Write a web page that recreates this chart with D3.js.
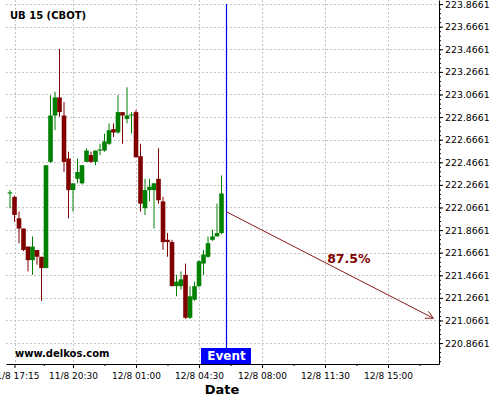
<!DOCTYPE html>
<html>
<head>
<meta charset="utf-8">
<script src="https://cdn.jsdelivr.net/npm/d3@7"></script>
<style>
  html, body { margin: 0; padding: 0; background: #fff; }
  svg { display: block; font-family: "DejaVu Sans", sans-serif; }
  .grid line { stroke: #c4c4c4; stroke-dasharray: 2,2; stroke-width: 1; }
  .axis path, .axis line { stroke: #000; }
  .axis text { fill: #000; }
</style>
</head>
<body>
<div id="chart"></div>
<script>
'use strict';

// ─── Дані (15-хв свічки, UB 15 CBOT) ────────────────────────────────────────
const opens  = [222.19, 222.16, 221.97, 221.88, 221.72, 221.60, 221.69, 221.63, 221.53, 222.47,
                222.88, 223.04, 222.88, 222.50, 222.22, 222.32, 222.28, 222.47, 222.53, 222.47,
                222.57, 222.57, 222.63, 222.76, 222.73, 222.91, 222.85, 222.88, 222.91, 222.52,
                222.06, 222.22, 222.22, 222.32, 222.12, 221.78, 221.76, 221.37, 221.37, 221.47,
                221.09, 221.25, 221.37, 221.57, 221.63, 221.78, 221.81, 221.84];
const highs  = [222.22, 222.17, 222.03, 221.88, 221.72, 221.81, 221.69, 221.63, 222.44, 223.06,
                223.09, 223.47, 223.00, 222.56, 222.28, 222.50, 222.44, 222.59, 222.56, 222.57,
                222.63, 222.72, 222.81, 222.81, 223.06, 222.91, 223.13, 222.91, 222.93, 222.63,
                222.32, 222.32, 222.28, 222.59, 222.16, 221.84, 221.78, 221.47, 221.50, 221.57,
                221.37, 221.41, 221.60, 221.69, 221.81, 221.87, 222.10, 222.35];
const lows   = [222.06, 221.94, 221.75, 221.68, 221.50, 221.47, 221.56, 221.24, 221.53, 222.46,
                222.75, 222.87, 222.38, 221.97, 222.03, 222.28, 222.27, 222.47, 222.46, 222.44,
                222.53, 222.56, 222.62, 222.69, 222.72, 222.63, 222.81, 222.72, 222.51, 222.03,
                222.00, 222.12, 221.88, 222.10, 221.69, 221.63, 221.37, 221.28, 221.34, 221.08,
                221.08, 221.24, 221.36, 221.47, 221.62, 221.77, 221.81, 221.83];
const closes = [222.20, 222.00, 221.88, 221.69, 221.60, 221.72, 221.63, 221.53, 222.44, 222.88,
                223.04, 222.91, 222.47, 222.22, 222.28, 222.38, 222.44, 222.57, 222.47, 222.57,
                222.58, 222.65, 222.75, 222.73, 222.91, 222.88, 222.88, 222.89, 222.51, 222.10,
                222.22, 222.25, 222.28, 222.13, 221.76, 221.76, 221.37, 221.41, 221.43, 221.09,
                221.28, 221.37, 221.59, 221.65, 221.75, 221.81, 221.84, 222.19];

// Вісь X — номер бару; підписи часу
const xTickIdx    = [1, 14, 28, 42, 56, 70, 84];
const xTickLabels = ['11/8 17:15', '11/8 20:30', '12/8 01:00', '12/8 04:30', '12/8 08:00', '12/8 11:30', '12/8 15:00'];
const xMinorIdx   = [7.5, 21, 35, 49, 63, 77, 91];

// Вісь Y — ціна
const yTicks = d3.range(16).map(k => +(220.8661 + 0.2 * k).toFixed(4));
const yMinor = d3.range(80).map(k => +(220.7061 + 0.04 * k).toFixed(4)).filter(v => v < 223.9);

// Подія та прогноз
const eventIdx    = 48;
const forecastIdx = [48, 94.07];
const forecastVal = [222.03, 221.086];
const forecastPct = '87.5%';
const labelIdx    = 75.3;
const labelVal    = 221.575;

// ─── Побудова ───────────────────────────────────────────────────────────────
const W = 500, H = 400;
const margin = { top: 0, right: 61, bottom: 36, left: 6 };
const width  = W - margin.left - margin.right;
const height = H - margin.top - margin.bottom;

const svg = d3.select('#chart').append('svg').attr('width', W).attr('height', H);
const g = svg.append('g').attr('transform', `translate(${margin.left},${margin.top})`);

const x = d3.scaleLinear().domain([-0.89, 95.33]).range([0, width]);
const y = d3.scaleLinear().domain([220.681, 223.9024]).range([height, 0]);

// Сітка
const grid = g.append('g').attr('class', 'grid');
grid.selectAll('.gy').data(yTicks).join('line')
  .attr('x1', 0).attr('x2', width)
  .attr('y1', d => Math.round(y(d)) + 0.5).attr('y2', d => Math.round(y(d)) + 0.5);
grid.selectAll('.gx').data(xTickIdx).join('line')
  .attr('x1', d => Math.round(x(d)) + 0.5).attr('x2', d => Math.round(x(d)) + 0.5)
  .attr('y1', 0).attr('y2', height);

// Свічки
const candles = opens.map((o, i) => ({ i, o, h: highs[i], l: lows[i], c: closes[i] }));
const colorOf = d => d.c >= d.o ? '#008000' : '#800000';
const bodyW = 4.6;

const cg = g.append('g');
cg.selectAll('.wick').data(candles).join('line')
  .attr('x1', d => x(d.i)).attr('x2', d => x(d.i))
  .attr('y1', d => y(d.h)).attr('y2', d => y(d.l))
  .attr('stroke', colorOf).attr('stroke-width', 1);
cg.selectAll('.body').data(candles).join('rect')
  .attr('x', d => x(d.i) - bodyW / 2)
  .attr('width', bodyW)
  .attr('y', d => y(Math.max(d.o, d.c)))
  .attr('height', d => Math.max(1, Math.abs(y(d.o) - y(d.c))))
  .attr('fill', colorOf);

// Лінія події
const ex = Math.round(x(eventIdx)) + 0.5;
g.append('line')
  .attr('x1', ex).attr('x2', ex)
  .attr('y1', y(yTicks[yTicks.length - 1])).attr('y2', height - 16)
  .attr('stroke', '#0000ff').attr('stroke-width', 1.2);

// Стрілка прогнозу
const ax1 = x(forecastIdx[0]), ay1 = y(forecastVal[0]);
const ax2 = x(forecastIdx[1]), ay2 = y(forecastVal[1]);
const ang = Math.atan2(ay2 - ay1, ax2 - ax1);
const arrowCol = '#8b1a1a';
g.append('line').attr('x1', ax1).attr('y1', ay1).attr('x2', ax2).attr('y2', ay2)
  .attr('stroke', arrowCol).attr('stroke-width', 1);
[-0.47, 0.47].forEach(da => {
  g.append('line')
    .attr('x1', ax2).attr('y1', ay2)
    .attr('x2', ax2 - 8.5 * Math.cos(ang + da)).attr('y2', ay2 - 8.5 * Math.sin(ang + da))
    .attr('stroke', arrowCol).attr('stroke-width', 1);
});
g.append('text')
  .attr('x', x(labelIdx)).attr('y', y(labelVal))
  .attr('text-anchor', 'middle')
  .attr('font-size', '12.5px').attr('font-weight', 'bold').attr('fill', '#800000')
  .text(forecastPct);

// Мітка Event
g.append('rect')
  .attr('x', ex - 25.5).attr('y', height - 16).attr('width', 50).attr('height', 16)
  .attr('fill', '#0000ff');
g.append('text')
  .attr('x', ex).attr('y', height - 8).attr('dy', '0.36em')
  .attr('text-anchor', 'middle')
  .attr('font-size', '12px').attr('font-weight', 'bold').attr('fill', '#fff')
  .text('Event');

// Осі
g.append('g').attr('class', 'axis')
  .attr('transform', `translate(${width},0)`)
  .call(d3.axisRight(y).tickValues(yMinor).tickSize(2).tickFormat(''))
  .call(a => a.select('.domain').remove());
g.append('g').attr('class', 'axis')
  .attr('transform', `translate(${width},0)`)
  .call(d3.axisRight(y).tickValues(yTicks).tickSize(4).tickSizeOuter(0).tickPadding(2)
    .tickFormat(d => d.toFixed(4)))
  .call(a => a.selectAll('text').attr('font-size', '9.4px').attr('font-family', 'DejaVu Sans'));

g.append('g').attr('class', 'axis')
  .attr('transform', `translate(0,${height})`)
  .call(d3.axisBottom(x).tickValues(xMinorIdx).tickSize(2).tickFormat(''))
  .call(a => a.select('.domain').remove());
g.append('g').attr('class', 'axis')
  .attr('transform', `translate(0,${height})`)
  .call(d3.axisBottom(x).tickValues(xTickIdx).tickSize(4).tickSizeOuter(0).tickPadding(5)
    .tickFormat((d, i) => xTickLabels[i]))
  .call(a => a.selectAll('text').attr('font-size', '9px').attr('font-family', 'DejaVu Sans'));

// Підписи
svg.append('text').attr('x', 10).attr('y', 15).attr('dy', '0.36em')
  .attr('font-size', '10px').attr('font-weight', 'bold').text('UB 15 (CBOT)');
svg.append('text').attr('x', 15).attr('y', 353).attr('dy', '0.36em')
  .attr('font-size', '10px').attr('font-weight', 'bold').text('www.delkos.com');
svg.append('text').attr('x', 222).attr('y', 389.5).attr('dy', '0.36em')
  .attr('text-anchor', 'middle')
  .attr('font-size', '13px').attr('font-weight', 'bold').text('Date');
</script>
</body>
</html>
